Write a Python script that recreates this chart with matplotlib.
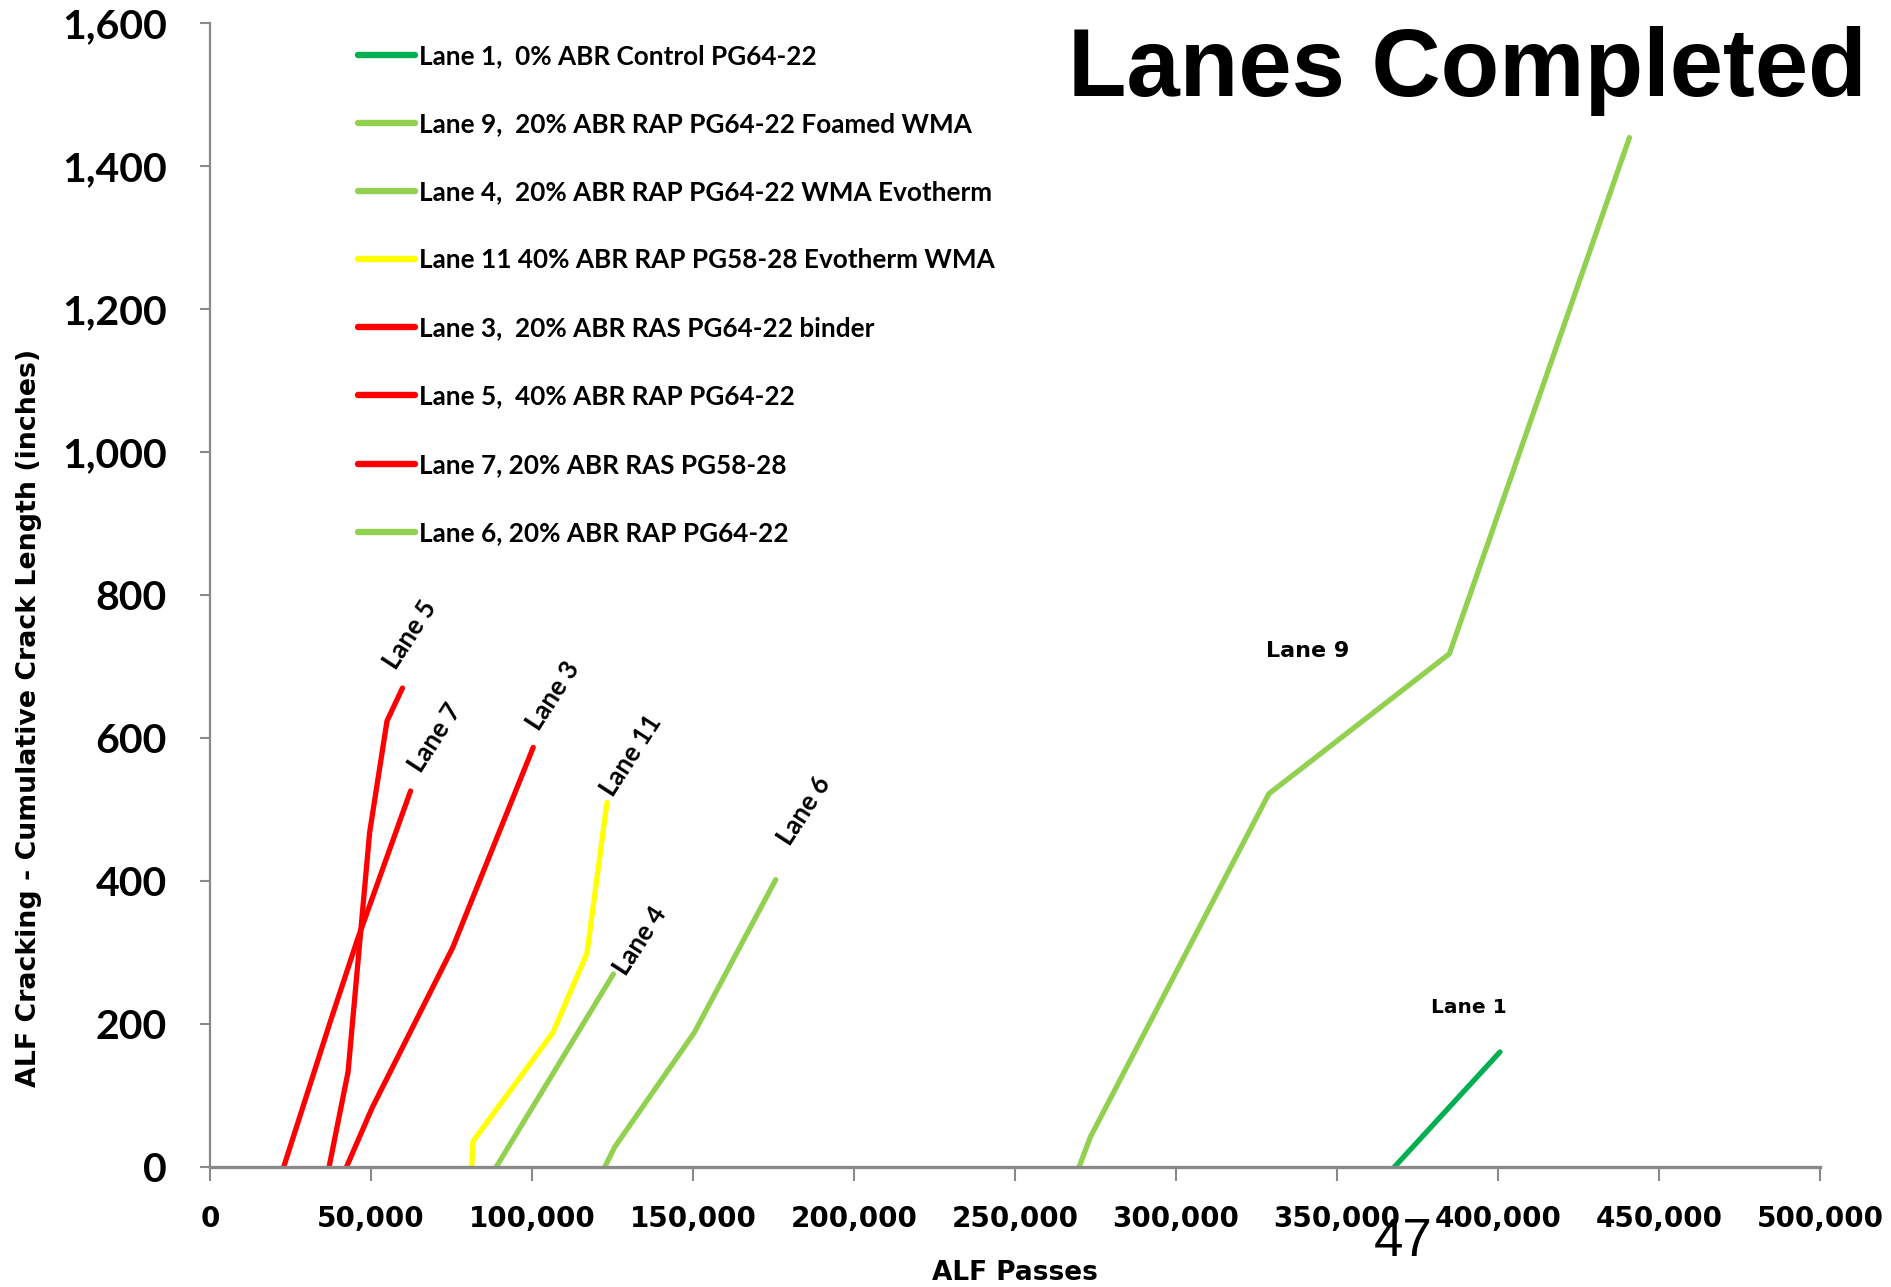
import matplotlib
matplotlib.use("Agg")
import matplotlib.pyplot as plt
from matplotlib.ticker import FuncFormatter

# ALF passes vs cumulative crack length (inches) for each lane
lane1_x = [367800, 400600]
lane1_y = [0, 161]
lane9_x = [269900, 273400, 328800, 384900, 440800]
lane9_y = [0, 42, 522, 718, 1440]
lane4_x = [88900, 125300]
lane4_y = [0, 270]
lane11_x = [81300, 81700, 106500, 117100, 123300]
lane11_y = [0, 36, 188, 299, 510]
lane3_x = [42400, 50400, 75400, 100400]
lane3_y = [0, 83, 307, 587]
lane5_x = [37000, 42900, 49600, 55000, 59800]
lane5_y = [0, 133, 468, 624, 670]
lane7_x = [22900, 37500, 45800, 62300]
lane7_y = [0, 205, 318, 526]
lane6_x = [122600, 125700, 150400, 175700]
lane6_y = [0, 28, 188, 402]

legend_labels = [
    "Lane 1,  0% ABR Control PG64-22",
    "Lane 9,  20% ABR RAP PG64-22 Foamed WMA",
    "Lane 4,  20% ABR RAP PG64-22 WMA Evotherm",
    "Lane 11 40% ABR RAP PG58-28 Evotherm WMA",
    "Lane 3,  20% ABR RAS PG64-22 binder",
    "Lane 5,  40% ABR RAP PG64-22",
    "Lane 7, 20% ABR RAS PG58-28",
    "Lane 6, 20% ABR RAP PG64-22",
]

DARK_GREEN = "#00B050"
LIGHT_GREEN = "#92D050"
YELLOW = "#FFFF00"
RED = "#FF0000"
GREY = "#898989"

series = [
    (lane1_x, lane1_y, DARK_GREEN),
    (lane9_x, lane9_y, LIGHT_GREEN),
    (lane4_x, lane4_y, LIGHT_GREEN),
    (lane11_x, lane11_y, YELLOW),
    (lane3_x, lane3_y, RED),
    (lane5_x, lane5_y, RED),
    (lane7_x, lane7_y, RED),
    (lane6_x, lane6_y, LIGHT_GREEN),
]

fig = plt.figure(figsize=(18.91, 12.87), dpi=100)
ax = fig.add_axes([0.111, 0.0932, 0.8515, 0.8888])

handles = []
for (xs, ys, c), lab in zip(series, legend_labels):
    h, = ax.plot(xs, ys, color=c, lw=3.8, solid_capstyle="round",
                 solid_joinstyle="round", label=lab, zorder=3)
    handles.append(h)

ax.set_xlim(0, 500000)
ax.set_ylim(0, 1600)
ax.set_xticks(range(0, 500001, 50000))
ax.set_yticks(range(0, 1601, 200))
fmt = FuncFormatter(lambda v, p: f"{int(v):,}")
ax.xaxis.set_major_formatter(fmt)
ax.yaxis.set_major_formatter(fmt)

for side in ("top", "right"):
    ax.spines[side].set_visible(False)
ax.spines["left"].set_color(GREY)
ax.spines["left"].set_linewidth(1.6)
ax.spines["bottom"].set_color(GREY)
ax.spines["bottom"].set_linewidth(2.4)
ax.spines["bottom"].set_zorder(4)

ax.tick_params(axis="x", direction="out", length=10, width=1.5, color=GREY, pad=17)
ax.tick_params(axis="y", direction="out", length=7, width=1.5, color=GREY, pad=24)
for t in ax.get_xticklabels():
    t.set_fontfamily("DejaVu Sans")
    t.set_fontweight("bold")
    t.set_fontsize(20)
for t in ax.get_yticklabels():
    t.set_fontfamily("Lato")
    t.set_fontweight("bold")
    t.set_fontsize(29.5)

ax.set_xlabel("ALF Passes", fontsize=19, fontweight="bold", family="DejaVu Sans", labelpad=20)
ax.set_ylabel("ALF Cracking - Cumulative Crack Length (inches)", fontsize=19.3,
              fontweight="bold", family="DejaVu Sans")
ax.yaxis.set_label_coords(-0.104, 0.393)

leg = ax.legend(handles=handles, loc="upper left", bbox_to_anchor=(358 / 1891, 1 - 44 / 1287),
                bbox_transform=fig.transFigure, frameon=False, handlelength=2.2,
                handletextpad=0.12, labelspacing=1.69, borderpad=0, borderaxespad=0,
                prop={"family": "Lato", "weight": "bold", "size": 18.8})
for ln in leg.get_lines():
    ln.set_linewidth(4.6)

# Rotated lane labels near line ends
rot_labels = [
    ("Lane 5", 62200, 744),
    ("Lane 7", 70000, 600),
    ("Lane 3", 106400, 659),
    ("Lane 11", 130700, 575),
    ("Lane 6", 184600, 499),
    ("Lane 4", 133700, 317),
]
for txt, x, y in rot_labels:
    ax.text(x, y, txt, rotation=57, ha="center", va="center", fontsize=18.5,
            fontweight="bold", family="Lato", rotation_mode="anchor")

ax.text(341000, 722, "Lane 9", ha="center", va="center", fontsize=16,
        fontweight="bold", family="DejaVu Sans")
ax.text(391000, 223, "Lane 1", ha="center", va="center", fontsize=14.5,
        fontweight="bold", family="DejaVu Sans")

fig.text(1867 / 1891, 1 - 96 / 1287, "Lanes Completed", ha="right", va="baseline",
         fontsize=69, fontweight="bold", family="Liberation Sans")
fig.text(1403 / 1891, 1 - 1242 / 1287, "47", ha="center", va="center",
         fontsize=38, family="Liberation Sans")

fig.savefig("out.png", dpi=100)
